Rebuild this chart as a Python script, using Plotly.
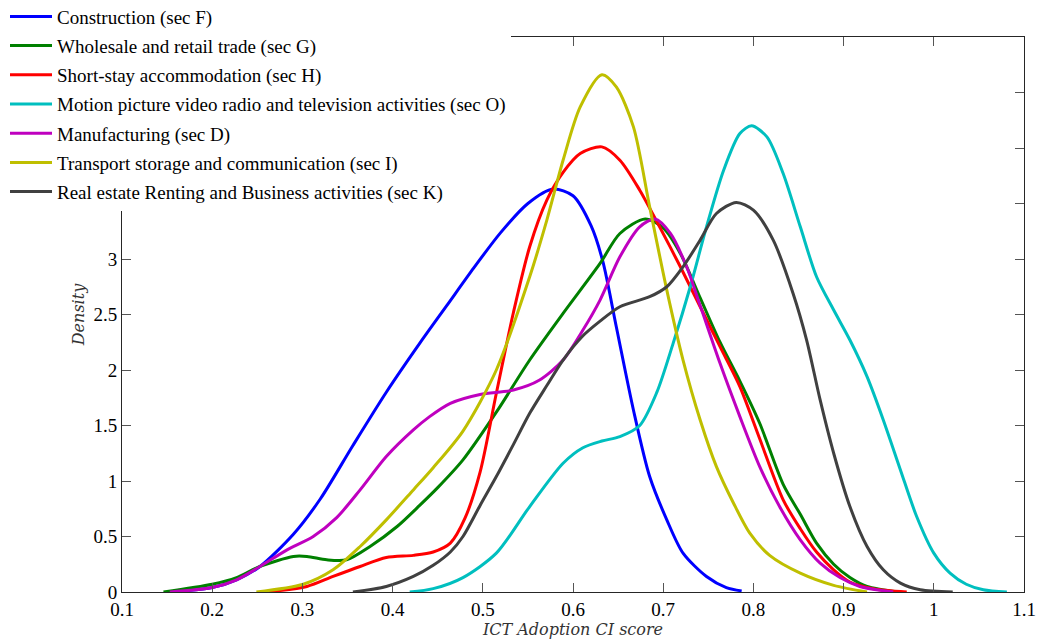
import plotly.graph_objects as go

# ---------------- data ----------------
names = [
    "Construction (sec F)",
    "Wholesale and retail trade (sec G)",
    "Short-stay accommodation (sec H)",
    "Motion picture video radio and television activities (sec O)",
    "Manufacturing (sec D)",
    "Transport storage and communication (sec I)",
    "Real estate Renting and Business activities (sec K)",
]

x_constr = [0.153, 0.20, 0.227, 0.253, 0.29, 0.32, 0.356, 0.393, 0.43, 0.46, 0.49, 0.52, 0.55,
            0.578, 0.60, 0.62, 0.633, 0.648, 0.667, 0.685, 0.704, 0.722, 0.748, 0.77, 0.787]
y_constr = [0.0, 0.04, 0.11, 0.23, 0.52, 0.84, 1.32, 1.80, 2.24, 2.58, 2.92, 3.24, 3.50,
            3.63, 3.57, 3.30, 2.98, 2.39, 1.64, 1.04, 0.65, 0.35, 0.14, 0.04, 0.01]

x_whole = [0.146, 0.20, 0.227, 0.253, 0.29, 0.305, 0.327, 0.349, 0.375, 0.405, 0.43, 0.45, 0.478,
           0.515, 0.552, 0.589, 0.63, 0.652, 0.68, 0.70, 0.719, 0.741, 0.763, 0.785, 0.807, 0.833,
           0.852, 0.87, 0.889, 0.907, 0.926, 0.96]
y_whole = [0.0, 0.07, 0.13, 0.23, 0.32, 0.32, 0.29, 0.29, 0.41, 0.59, 0.78, 0.94, 1.19,
           1.62, 2.09, 2.51, 2.96, 3.23, 3.36, 3.28, 3.05, 2.65, 2.25, 1.90, 1.52, 0.97,
           0.70, 0.44, 0.25, 0.13, 0.05, 0.0]

x_short = [0.26, 0.305, 0.334, 0.364, 0.393, 0.423, 0.445, 0.464, 0.48, 0.497, 0.515, 0.534,
           0.552, 0.571, 0.589, 0.608, 0.632, 0.652, 0.674, 0.696, 0.719, 0.741, 0.763, 0.785,
           0.807, 0.833, 0.852, 0.87, 0.889, 0.907, 0.933, 0.97]
y_short = [0.0, 0.05, 0.14, 0.23, 0.31, 0.33, 0.36, 0.44, 0.66, 1.08, 1.79, 2.52,
           3.11, 3.53, 3.78, 3.95, 4.01, 3.89, 3.62, 3.29, 2.93, 2.57, 2.21, 1.85,
           1.38, 0.83, 0.57, 0.36, 0.20, 0.09, 0.03, 0.0]

x_motion = [0.419, 0.445, 0.478, 0.515, 0.552, 0.589, 0.611, 0.632, 0.652, 0.674, 0.693, 0.711,
            0.73, 0.748, 0.767, 0.785, 0.798, 0.815, 0.833, 0.852, 0.87, 0.889, 0.907, 0.926,
            0.944, 0.963, 0.981, 1.0, 1.018, 1.036, 1.055, 1.081]
y_motion = [0.0, 0.03, 0.13, 0.35, 0.77, 1.16, 1.30, 1.36, 1.40, 1.50, 1.80, 2.24,
            2.75, 3.29, 3.80, 4.13, 4.20, 4.10, 3.77, 3.29, 2.84, 2.54, 2.27, 1.94,
            1.55, 1.10, 0.68, 0.35, 0.17, 0.07, 0.02, 0.0]

x_manuf = [0.153, 0.20, 0.227, 0.253, 0.283, 0.312, 0.338, 0.364, 0.393, 0.423, 0.441, 0.464,
           0.497, 0.534, 0.563, 0.589, 0.611, 0.63, 0.652, 0.674, 0.691, 0.708, 0.726, 0.741,
           0.763, 0.785, 0.807, 0.829, 0.852, 0.874, 0.896, 0.918, 0.955]
y_manuf = [0.0, 0.04, 0.11, 0.23, 0.38, 0.50, 0.67, 0.92, 1.22, 1.46, 1.58, 1.70,
           1.78, 1.82, 1.91, 2.09, 2.36, 2.63, 3.02, 3.29, 3.36, 3.23, 2.93, 2.58,
           2.06, 1.58, 1.13, 0.77, 0.47, 0.26, 0.13, 0.05, 0.0]

x_trans = [0.249, 0.301, 0.334, 0.364, 0.393, 0.423, 0.445, 0.478, 0.515, 0.552, 0.571, 0.589,
           0.608, 0.632, 0.648, 0.667, 0.685, 0.704, 0.722, 0.741, 0.759, 0.778, 0.796, 0.818,
           0.852, 0.889, 0.926]
y_trans = [0.0, 0.07, 0.20, 0.41, 0.65, 0.92, 1.12, 1.45, 2.00, 2.84, 3.35, 3.89,
           4.37, 4.66, 4.55, 4.19, 3.47, 2.72, 2.09, 1.55, 1.13, 0.80, 0.53, 0.33,
           0.17, 0.06, 0.0]

x_real = [0.356, 0.393, 0.423, 0.445, 0.464, 0.478, 0.497, 0.515, 0.534, 0.552, 0.571, 0.589,
          0.61, 0.63, 0.652, 0.685, 0.704, 0.722, 0.741, 0.759, 0.781, 0.80, 0.822, 0.844,
          0.859, 0.874, 0.889, 0.907, 0.926, 0.944, 0.963, 0.985, 1.021]
y_real = [0.0, 0.05, 0.14, 0.24, 0.36, 0.50, 0.78, 1.04, 1.33, 1.61, 1.86, 2.09,
          2.30, 2.44, 2.57, 2.66, 2.75, 2.93, 3.17, 3.41, 3.51, 3.44, 3.17, 2.69,
          2.27, 1.73, 1.25, 0.77, 0.41, 0.20, 0.08, 0.02, 0.0]

xs = [x_constr, x_whole, x_short, x_motion, x_manuf, x_trans, x_real]
ys = [y_constr, y_whole, y_short, y_motion, y_manuf, y_trans, y_real]
colors = ["#0000FF", "#008000", "#FF0000", "#00BFBF", "#BF00BF", "#BFBF00", "#404040"]

x_ticks = [0.1, 0.2, 0.3, 0.4, 0.5, 0.6, 0.7, 0.8, 0.9, 1.0, 1.1]
x_ticklabels = ["0.1", "0.2", "0.3", "0.4", "0.5", "0.6", "0.7", "0.8", "0.9", "1", "1.1"]
y_ticks = [0, 0.5, 1, 1.5, 2, 2.5, 3, 3.5, 4, 4.5, 5]
y_ticklabels = ["0", "0.5", "1", "1.5", "2", "2.5", "3", "3.5", "4", "4.5", "5"]

# ---------------- figure ----------------
W, H = 1037, 639
ML, MR, MT, MB = 122, 13, 36.5, 46.5
PW, PH = W - ML - MR, H - MT - MB

fig = go.Figure()
for i, (n, x, y, c) in enumerate(zip(names, xs, ys, colors)):
    fig.add_trace(go.Scatter(
        x=x, y=y, name=n, mode="lines",
        line=dict(color=c, width=3, shape="spline", smoothing=0.8),
        legendgroup="g%d" % i,
    ))

axis_common = dict(
    showgrid=False, zeroline=False, showline=True, linecolor="#262626", linewidth=1,
    mirror="ticks", ticks="inside", ticklen=9, tickcolor="#555555", tickwidth=1,
    tickfont=dict(family="Liberation Serif", size=19, color="#000000"),
)

fig.update_layout(
    width=W, height=H,
    margin=dict(l=ML, r=MR, t=MT, b=MB, autoexpand=False),
    paper_bgcolor="white", plot_bgcolor="white",
    xaxis=dict(range=[0.1, 1.1], tickvals=x_ticks, ticktext=x_ticklabels,
               title=dict(text="ICT Adoption CI score", standoff=2,
                          font=dict(family="DejaVu Serif", size=16, style="italic", color="#333333")),
               **axis_common),
    yaxis=dict(range=[0, 5], tickvals=y_ticks, ticktext=y_ticklabels,
               title=dict(text="Density", standoff=4,
                          font=dict(family="DejaVu Serif", size=16, style="italic", color="#333333")),
               **axis_common),
    legend=dict(
        x=-(ML - 5) / PW, y=1 + (MT + 3) / PH, xanchor="left", yanchor="top",
        bgcolor="white", borderwidth=0,
        font=dict(family="Liberation Serif", size=19, color="#000000"),
        tracegroupgap=1.5, itemwidth=42,
    ),
    showlegend=True,
)

fig.write_html("out.html", config={"displayModeBar": False},
               post_script="document.body.style.margin='0';")
